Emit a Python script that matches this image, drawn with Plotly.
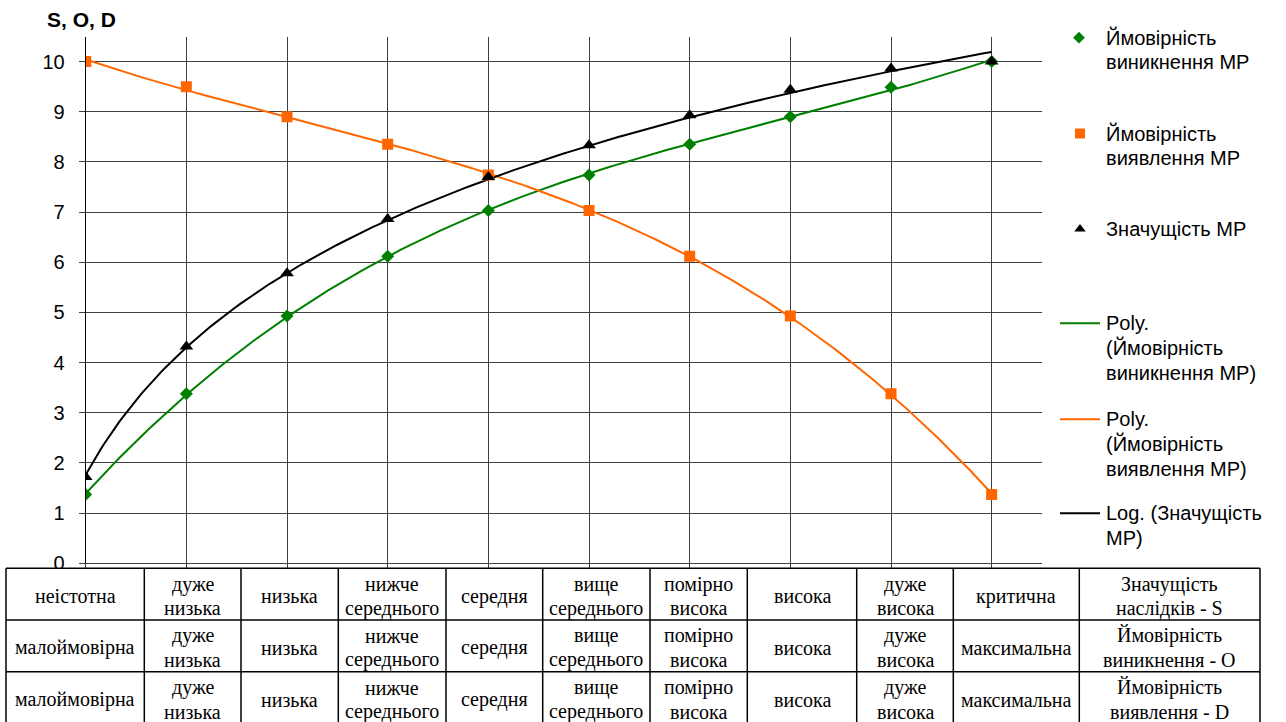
import numpy as np
import plotly.graph_objects as go

# ---------------------------------------------------------------- data
levels = [1, 2, 3, 4, 5, 6, 7, 8, 9, 10]
occurrence = [1.37, 3.38, 4.93, 6.12, 7.03, 7.74, 8.35, 8.90, 9.49, 10.0]   # O
detection = [10.0, 9.50, 8.90, 8.35, 7.74, 7.03, 6.12, 4.93, 3.38, 1.37]    # D
severity = [1.72, 4.32, 5.78, 6.86, 7.70, 8.33, 8.93, 9.44, 9.86, 10.0]     # S

y_ticks = [0, 1, 2, 3, 4, 5, 6, 7, 8, 9, 10]

severity_labels = ["неістотна", "дуже\nнизька", "низька", "нижче\nсереднього", "середня",
                   "вище\nсереднього", "помірно\nвисока", "висока", "дуже\nвисока",
                   "критична", "Значущість\nнаслідків - S"]
occurrence_labels = ["малоймовірна", "дуже\nнизька", "низька", "нижче\nсереднього", "середня",
                     "вище\nсереднього", "помірно\nвисока", "висока", "дуже\nвисока",
                     "максимальна", "Ймовірність\nвиникнення - O"]
detection_labels = ["малоймовірна", "дуже\nнизька", "низька", "нижче\nсереднього", "середня",
                    "вище\nсереднього", "помірно\nвисока", "висока", "дуже\nвисока",
                    "максимальна", "Ймовірність\nвиявлення - D"]

legend_labels = ["Ймовірність\nвиникнення МР",
                 "Ймовірність\nвиявлення МР",
                 "Значущість МР",
                 "Poly.\n(Ймовірність\nвиникнення МР)",
                 "Poly.\n(Ймовірність\nвиявлення МР)",
                 "Log. (Значущість\nМР)"]

# ---------------------------------------------------------------- styling
W, H = 1286, 722
GREEN, ORANGE, BLACK = "#008000", "#FF6600", "#000000"
GRID = "#404040"
SANS = "Liberation Sans, Arial, sans-serif"
SERIF = "Liberation Serif, Times New Roman, serif"

# plot area in pixels
PL, PR, PT, PB = 85.7, 1042.0, 36.5, 563.3


def px(x):
    return x / W


def py(y):
    return 1 - y / H


# ---------------------------------------------------------------- trend lines
x_arr = np.array(levels, dtype=float)
xs = np.linspace(1, 10, 300)
occ_fit = np.polyval(np.polyfit(x_arr, occurrence, 3), xs)
det_fit = np.polyval(np.polyfit(x_arr, detection, 3), xs)
b_log, a_log = np.polyfit(np.log(x_arr), severity, 1)
sev_fit = a_log + b_log * np.log(xs)

fig = go.Figure()
fig.add_trace(go.Scatter(x=xs, y=occ_fit, mode="lines", line=dict(color=GREEN, width=2),
                         hoverinfo="skip"))
fig.add_trace(go.Scatter(x=xs, y=det_fit, mode="lines", line=dict(color=ORANGE, width=2),
                         hoverinfo="skip"))
fig.add_trace(go.Scatter(x=xs, y=sev_fit, mode="lines", line=dict(color=BLACK, width=2),
                         hoverinfo="skip"))
fig.add_trace(go.Scatter(x=levels, y=occurrence, mode="markers",
                         marker=dict(symbol="diamond", size=10, color=GREEN)))
fig.add_trace(go.Scatter(x=levels, y=detection, mode="markers",
                         marker=dict(symbol="square", size=11, color=ORANGE)))
fig.add_trace(go.Scatter(x=levels, y=severity, mode="markers",
                         marker=dict(symbol="triangle-up", size=12, color=BLACK)))

# ---------------------------------------------------------------- legend (pixel axis)
leg_rows = [37.7, 133.5, 229.0, 323.3, 419.3, 513.3]
leg_line_gap = 24.6
fig.add_trace(go.Scatter(x=[1079], y=[leg_rows[0]], mode="markers", xaxis="x2", yaxis="y2",
                         marker=dict(symbol="diamond", size=9, color=GREEN), hoverinfo="skip"))
fig.add_trace(go.Scatter(x=[1080], y=[leg_rows[1]], mode="markers", xaxis="x2", yaxis="y2",
                         marker=dict(symbol="square", size=10, color=ORANGE), hoverinfo="skip"))
fig.add_trace(go.Scatter(x=[1080], y=[leg_rows[2]], mode="markers", xaxis="x2", yaxis="y2",
                         marker=dict(symbol="triangle-up", size=10, color=BLACK), hoverinfo="skip"))
for yy, col in zip(leg_rows[3:], [GREEN, ORANGE, BLACK]):
    fig.add_trace(go.Scatter(x=[1060, 1100], y=[yy, yy], mode="lines", xaxis="x2", yaxis="y2",
                             line=dict(color=col, width=2), hoverinfo="skip"))

annotations = []
for yy, label in zip(leg_rows, legend_labels):
    for k, line in enumerate(label.split("\n")):
        annotations.append(dict(x=px(1104), y=py(yy + k * leg_line_gap), xref="paper", yref="paper",
                                text=line, showarrow=False, xanchor="left", yanchor="middle",
                                font=dict(family=SANS, size=20, color="black")))

# axis title
annotations.append(dict(x=px(45), y=py(20), xref="paper", yref="paper", text="<b>S, O, D</b>",
                        showarrow=False, xanchor="left", yanchor="middle",
                        font=dict(family=SANS, size=21, color="black")))

# ---------------------------------------------------------------- table under the chart
col_edges = [6, 144.3, 241, 338.3, 446, 542.7, 650, 747.3, 856.7, 953.3, 1079.3, 1260]
row_edges = [568.3, 620, 671.7, 723.4]
shapes = [dict(type="rect", xref="paper", yref="paper", x0=0, x1=1, y0=py(H + 5), y1=py(568.3),
               fillcolor="white", line=dict(width=0), layer="above")]
for xe in col_edges:
    shapes.append(dict(type="line", xref="paper", yref="paper", x0=px(xe), x1=px(xe),
                       y0=py(row_edges[0]), y1=py(row_edges[-1]),
                       line=dict(color="black", width=1.5), layer="above"))
for ye in row_edges:
    shapes.append(dict(type="line", xref="paper", yref="paper", x0=px(col_edges[0]),
                       x1=px(col_edges[-1]), y0=py(ye), y1=py(ye),
                       line=dict(color="black", width=1.5), layer="above"))

cell_line_gap = 24.0
for r, row in enumerate([severity_labels, occurrence_labels, detection_labels]):
    yc = (row_edges[r] + row_edges[r + 1]) / 2 + 2
    for c, label in enumerate(row):
        xc = (col_edges[c] + col_edges[c + 1]) / 2
        lines = label.split("\n")
        n = len(lines)
        for k, line in enumerate(lines):
            yy = yc + (k - (n - 1) / 2) * cell_line_gap
            annotations.append(dict(x=px(xc), y=py(yy), xref="paper", yref="paper", text=line,
                                    showarrow=False, xanchor="center", yanchor="middle",
                                    font=dict(family=SERIF, size=20, color="black")))

# ---------------------------------------------------------------- layout
fig.update_layout(
    width=W, height=H, autosize=False,
    margin=dict(l=0, r=0, t=0, b=0),
    paper_bgcolor="white", plot_bgcolor="rgba(0,0,0,0)",
    showlegend=False,
    xaxis=dict(domain=[px(PL), px(PR)], range=[1, 10.5], dtick=1, tick0=1,
               showgrid=True, gridcolor=GRID, gridwidth=1,
               showline=True, linecolor=GRID, linewidth=1,
               ticks="outside", ticklen=5, tickcolor=GRID, showticklabels=False,
               zeroline=False, automargin=False, fixedrange=True),
    yaxis=dict(domain=[py(PB), py(PT)], range=[0, 10.5], tickvals=y_ticks,
               showgrid=True, gridcolor=GRID, gridwidth=1,
               showline=True, linecolor="black", linewidth=1,
               ticks="outside", ticklen=6, tickcolor=GRID,
               tickfont=dict(family=SANS, size=20, color="black"), ticklabelstandoff=10,
               zeroline=False, automargin=False, fixedrange=True),
    xaxis2=dict(domain=[0, 1], range=[0, W], visible=False, anchor="y2", fixedrange=True),
    yaxis2=dict(domain=[0, 1], range=[H, 0], visible=False, anchor="x2", fixedrange=True),
    shapes=shapes,
    annotations=annotations,
)

fig.write_html("out.html")
